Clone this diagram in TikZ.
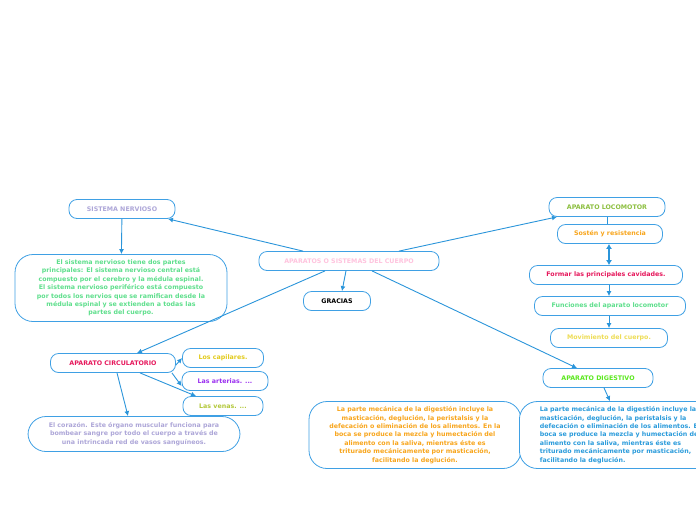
\documentclass[tikz,border=0pt]{standalone}
\usepackage{fontspec}
\setmainfont{DejaVu Sans}
\usetikzlibrary{arrows.meta, positioning}
\definecolor{lineBlue}{HTML}{2B95DA}
\definecolor{boxBlue}{HTML}{3FA0E4}
\definecolor{lavender}{HTML}{ADA6D8}
\definecolor{mintGreen}{HTML}{5EDF8C}
\definecolor{softPink}{HTML}{FFC3DE}
\definecolor{oliveGreen}{HTML}{8CBF3F}
\definecolor{sunOrange}{HTML}{F8A51B}
\definecolor{crimson}{HTML}{E6185C}
\definecolor{paleYellow}{HTML}{EEDD55}
\definecolor{goldYellow}{HTML}{E3CB1C}
\definecolor{violet}{HTML}{9B30F0}
\definecolor{limeOlive}{HTML}{B3C83A}
\definecolor{brightGreen}{HTML}{5BE81E}
\definecolor{textBlue}{HTML}{2A9BDB}

\begin{document}
\begin{tikzpicture}[
  x=1pt, y=-1pt,
  every node/.style={font=\fontsize{6.3}{8.4}\selectfont\bfseries},
  topic/.style={rectangle, draw=boxBlue, line width=0.8pt, fill=white, rounded corners=8pt, minimum height=19pt, align=center, inner sep=1pt},
  note/.style={rectangle, draw=boxBlue, line width=0.8pt, fill=white, rounded corners=18pt, align=center, inner sep=2pt},
  arrow/.style={-{Latex[length=5pt,width=5pt]}, lineBlue, line width=0.9pt},
]
\useasboundingbox (0,0) rectangle (696,520);

% Central topic
\node[topic, minimum width=180pt, text=softPink] (cuerpo) at (349,261) {APARATOS O SISTEMAS DEL CUERPO};
\node[topic, minimum width=67pt] (gracias) at (337,301) {GRACIAS};

% === SISTEMA NERVIOSO ===
\node[topic, minimum width=106pt, text=lavender] (nervioso) at (122,209) {SISTEMA NERVIOSO};
\node[note, minimum width=212pt, minimum height=67pt, text=mintGreen] (nervText) at (121,288)
  {El sistema nervioso tiene dos partes\\principales: El sistema nervioso central está\\compuesto por el cerebro y la médula espinal.\\El sistema nervioso periférico está compuesto\\por todos los nervios que se ramifican desde la\\médula espinal y se extienden a todas las\\partes del cuerpo.};

% === APARATO LOCOMOTOR ===
\node[topic, minimum width=116pt, text=oliveGreen] (locomotor) at (607,207) {APARATO LOCOMOTOR};
\node[topic, minimum width=105pt, text=sunOrange] (sosten) at (610,234) {Sostén y resistencia};
\node[topic, minimum width=153pt, text=crimson] (cavidades) at (606,275) {Formar las principales cavidades.};
\node[topic, minimum width=151pt, text=mintGreen] (funciones) at (610,306) {Funciones del aparato locomotor};
\node[topic, minimum width=117pt, text=paleYellow] (movimiento) at (609,338) {Movimiento del cuerpo.};

% === APARATO CIRCULATORIO ===
\node[topic, minimum width=125pt, text=crimson] (circulatorio) at (113,363) {APARATO CIRCULATORIO};
\node[topic, minimum width=81pt, text=goldYellow] (capilares) at (223,358) {Los capilares.};
\node[topic, minimum width=86pt, text=violet] (arterias) at (225,381) {Las arterias. ...};
\node[topic, minimum width=80pt, text=limeOlive] (venas) at (223,406) {Las venas. ...};
\node[note, minimum width=212pt, minimum height=35pt, text=lavender] (corazon) at (134,434)
  {El corazón. Este órgano muscular funciona para\\bombear sangre por todo el cuerpo a través de\\una intrincada red de vasos sanguíneos.};

% === APARATO DIGESTIVO ===
\node[topic, minimum width=110pt, text=brightGreen] (digestivo) at (598,378) {APARATO DIGESTIVO};
\node[note, minimum width=212pt, minimum height=67pt, text=sunOrange] (digText) at (415,435)
  {La parte mecánica de la digestión incluye la\\masticación, deglución, la peristalsis y la\\defecación o eliminación de los alimentos. En la\\boca se produce la mezcla y humectación del\\alimento con la saliva, mientras éste es\\triturado mecánicamente por masticación,\\facilitando la deglución.};
\node[note, minimum width=212pt, minimum height=67pt, text=textBlue, align=left, anchor=west] (digTextB) at (519,435)
  {La parte mecánica de la digestión incluye la\\masticación, deglución, la peristalsis y la\\defecación o eliminación de los alimentos. En la\\boca se produce la mezcla y humectación del\\alimento con la saliva, mientras éste es\\triturado mecánicamente por masticación,\\facilitando la deglución.};

% === ARROWS: central topic ===
\draw[arrow] ([xshift=-46pt]cuerpo.north) -- ([xshift=46pt]nervioso.south);
\draw[arrow] ([xshift=50pt]cuerpo.north) -- ([xshift=-50pt]locomotor.south);
\draw[arrow] ([xshift=-3pt]cuerpo.south) -- ([xshift=5pt]gracias.north);
\draw[arrow] ([xshift=-24pt]cuerpo.south) -- ([xshift=24pt]circulatorio.north);
\draw[arrow] ([xshift=23pt]cuerpo.south) -- ([xshift=-21pt]digestivo.north);

% === ARROWS: nervioso ===
\draw[arrow] (nervioso) -- (nervText);

% === ARROWS: locomotor ===
\draw[lineBlue, line width=0.9pt] (locomotor.south) -- ([xshift=-3pt]sosten.north);
\draw[{Latex[length=5pt,width=6pt]}-{Latex[length=5pt,width=6pt]}, lineBlue, line width=2pt] ([xshift=-1pt]sosten.south) -- ([xshift=3pt]cavidades.north);
\draw[arrow] ([xshift=3pt]cavidades.south) -- ([xshift=-1pt]funciones.north);
\draw[arrow] ([xshift=-1pt]funciones.south) -- (movimiento.north);

% === ARROWS: circulatorio ===
\draw[arrow] ([yshift=-2pt]circulatorio.east) -- (capilares.west);
\draw[arrow] ([xshift=-4pt]circulatorio.south east) -- ([yshift=-5pt]arterias.west);
\draw[arrow] ([xshift=27pt]circulatorio.south) -- ([xshift=-27pt]venas.north);
\draw[arrow] ([xshift=4pt]circulatorio.south) -- ([xshift=-6pt]corazon.north);

% === ARROWS: digestivo ===
\draw[arrow] ([xshift=6pt]digestivo.south) -- ([xshift=91pt]digTextB.north west);

\end{tikzpicture}
\end{document}
